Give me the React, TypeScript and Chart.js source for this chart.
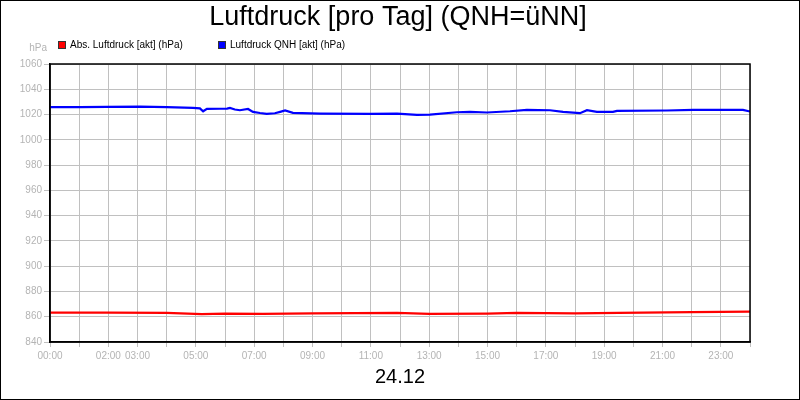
import { useEffect, useRef } from 'react';
import { Chart, registerables } from 'chart.js';

Chart.register(...registerables);

const FONT = '"Liberation Sans", Arial, sans-serif';

// QNH (blue), hour of day -> hPa
const qnhHours = [0, 1.03, 1.95, 3.09, 4.0, 4.9, 5.14, 5.25, 5.38, 5.83, 6.07, 6.17, 6.34, 6.51, 6.79, 6.96, 7.2, 7.43, 7.71, 7.89, 8.06, 8.33, 9.26, 10.97, 11.9, 12.58, 13.03, 13.95, 14.4, 14.98, 15.77, 16.35, 17.14, 17.59, 18.17, 18.41, 18.75, 19.3, 19.44, 21.15, 22.05, 23.76, 24];
const qnhValues = [1025.8, 1025.8, 1026.1, 1026.3, 1025.8, 1025.3, 1024.9, 1022.6, 1024.5, 1024.6, 1024.7, 1025.2, 1024.0, 1023.4, 1024.4, 1022.1, 1021.2, 1020.6, 1021.0, 1022.1, 1023.2, 1021.3, 1020.8, 1020.6, 1020.8, 1019.8, 1020.0, 1021.8, 1022.1, 1021.6, 1022.6, 1023.7, 1023.4, 1022.1, 1021.1, 1023.4, 1022.1, 1022.1, 1022.9, 1023.2, 1023.7, 1023.7, 1022.4];

// Absolute pressure (red)
const absHours = [0, 2, 4, 5.2, 6, 7.3, 9, 11.9, 13, 15, 16, 18, 19.5, 22, 24];
const absValues = [863.2, 863.3, 863.0, 862.0, 862.4, 862.2, 862.6, 863.0, 862.2, 862.4, 863.0, 862.7, 863.0, 863.6, 864.0];

const xLabels: Record<number, string> = {
  0: '00:00', 2: '02:00', 3: '03:00', 5: '05:00', 7: '07:00', 9: '09:00', 11: '11:00',
  13: '13:00', 15: '15:00', 17: '17:00', 19: '19:00', 21: '21:00', 23: '23:00',
};

const legendItems = [
  { label: 'Abs. Luftdruck [akt] (hPa)', color: '#ff0000', x: 58 },
  { label: 'Luftdruck QNH [akt] (hPa)', color: '#0000ff', x: 218 },
];

const decorPlugin = {
  id: 'decor',
  afterDraw(chart: Chart) {
    const { ctx, chartArea } = chart;
    ctx.save();
    // plot frame
    ctx.strokeStyle = '#000';
    ctx.lineWidth = 1.5;
    ctx.strokeRect(chartArea.left, chartArea.top, chartArea.right - chartArea.left, chartArea.bottom - chartArea.top);
    // outer border
    ctx.lineWidth = 1;
    ctx.strokeRect(0.5, 0.5, chart.width - 1, chart.height - 1);
    // title
    ctx.fillStyle = '#000';
    ctx.textAlign = 'center';
    ctx.textBaseline = 'middle';
    ctx.font = `27px ${FONT}`;
    ctx.fillText('Luftdruck [pro Tag] (QNH=üNN]', 398, 18);
    // date
    ctx.font = `20px ${FONT}`;
    ctx.fillText('24.12', 400, 377);
    // unit
    ctx.fillStyle = '#b4b4b4';
    ctx.font = `10px ${FONT}`;
    ctx.textAlign = 'right';
    ctx.fillText('hPa', 47, 48);
    // legend
    ctx.textAlign = 'left';
    legendItems.forEach(item => {
      ctx.fillStyle = item.color;
      ctx.fillRect(item.x, 41, 8, 8);
      ctx.strokeStyle = '#333';
      ctx.lineWidth = 1;
      ctx.strokeRect(item.x + 0.5, 41.5, 7, 7);
      ctx.fillStyle = '#000';
      ctx.fillText(item.label, item.x + 12, 45);
    });
    ctx.restore();
  },
};

export default function App() {
  const chartRef = useRef<HTMLCanvasElement>(null);
  const chartInstance = useRef<Chart | null>(null);

  useEffect(() => {
    if (!chartRef.current) return;
    const ctx = chartRef.current.getContext('2d');
    if (!ctx) return;

    chartInstance.current = new Chart(ctx, {
      type: 'line',
      data: {
        datasets: [
          {
            label: 'Abs. Luftdruck [akt] (hPa)',
            data: absHours.map((h, i) => ({ x: h, y: absValues[i] })),
            borderColor: '#ff0000',
            borderWidth: 2.2,
            pointRadius: 0,
            tension: 0,
          },
          {
            label: 'Luftdruck QNH [akt] (hPa)',
            data: qnhHours.map((h, i) => ({ x: h, y: qnhValues[i] })),
            borderColor: '#0000ff',
            borderWidth: 2.2,
            pointRadius: 0,
            tension: 0,
          },
        ],
      },
      options: {
        responsive: false,
        animation: false,
        layout: { padding: { top: 64, right: 50, left: 0, bottom: 0 } },
        plugins: {
          legend: { display: false },
          title: { display: false },
          tooltip: { enabled: false },
        },
        scales: {
          x: {
            type: 'linear',
            min: 0,
            max: 24,
            afterFit: (scale: any) => { scale.height = 58; },
            grid: { color: '#c0c0c0', tickLength: 5 },
            border: { color: '#000', width: 1.5 },
            ticks: {
              stepSize: 1,
              autoSkip: false,
              maxRotation: 0,
              padding: 3,
              color: '#b4b4b4',
              font: { family: FONT, size: 10 },
              callback: (v: any) => xLabels[Number(v)] ?? '',
            },
          },
          y: {
            min: 840,
            max: 1060,
            afterFit: (scale: any) => { scale.width = 50; },
            grid: { color: '#c0c0c0', tickLength: 6 },
            border: { color: '#000', width: 1.5 },
            ticks: {
              stepSize: 20,
              padding: 2,
              color: '#b4b4b4',
              font: { family: FONT, size: 10 },
              callback: (v: any) => String(v),
            },
          },
        },
      },
      plugins: [decorPlugin],
    });

    return () => {
      if (chartInstance.current) {
        chartInstance.current.destroy();
      }
    };
  }, []);

  return (
    <div style={{ position: 'absolute', left: 0, top: 0, width: 800, height: 400, background: '#fff' }}>
      <canvas ref={chartRef} width={800} height={400} />
    </div>
  );
}
